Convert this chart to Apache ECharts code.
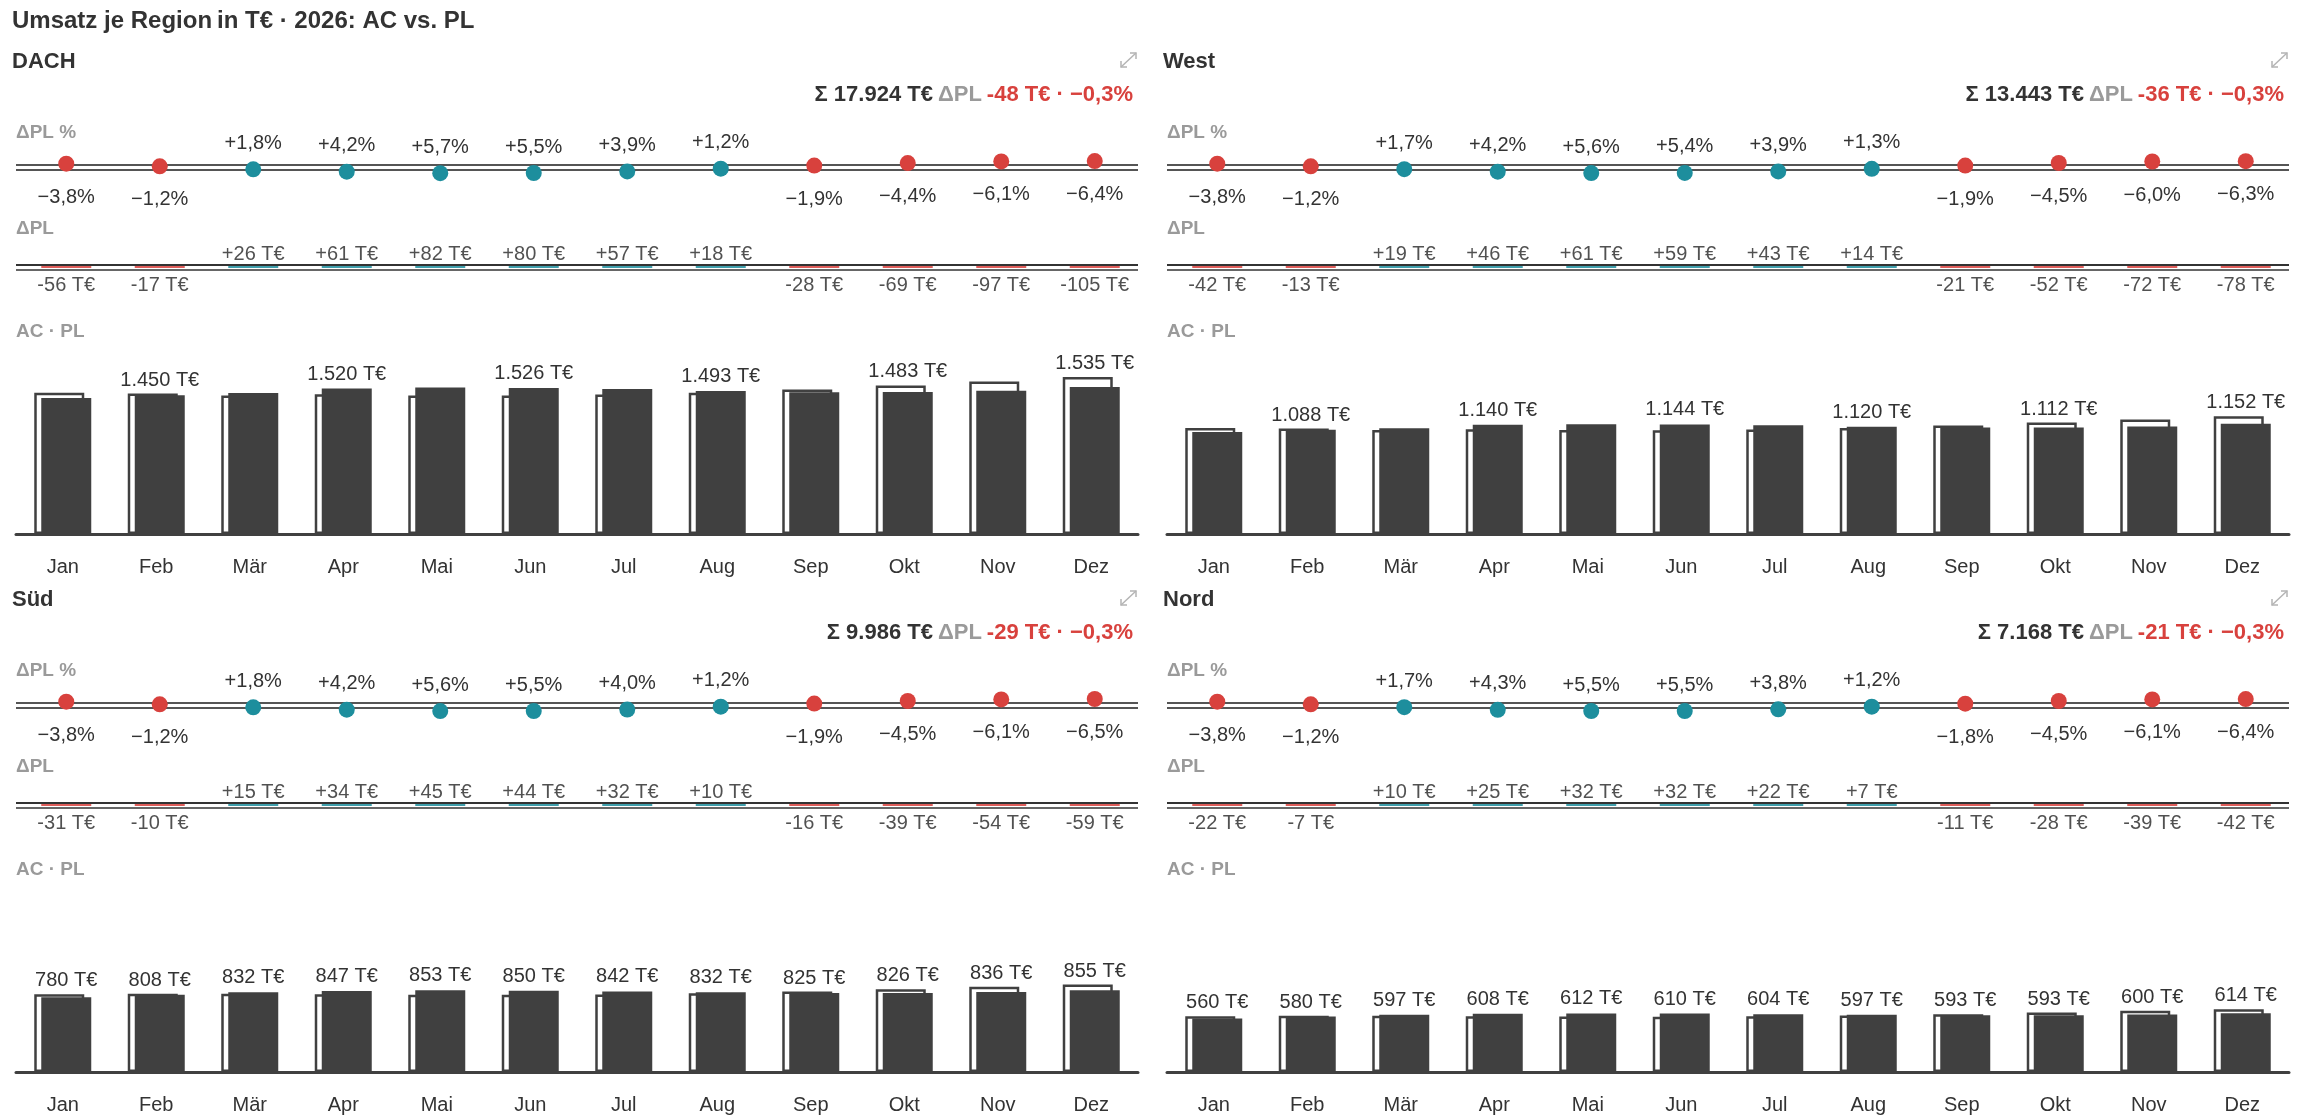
<!DOCTYPE html>
<html>
<head>
<meta charset="utf-8">
<script src="https://cdn.jsdelivr.net/npm/echarts@6/dist/echarts.min.js"></script>
<style>
html, body { margin: 0; padding: 0; background: #fff; }
#chart { width: 2300px; height: 1120px; }
</style>
</head>
<body>
<div id="chart"></div>
<script>
// Daten
var months = ['Jan', 'Feb', 'Mär', 'Apr', 'Mai', 'Jun', 'Jul', 'Aug', 'Sep', 'Okt', 'Nov', 'Dez'];
var regionNames = ['DACH', 'West', 'Süd', 'Nord'];

var acDach  = [1420, 1450, 1474, 1520, 1530, 1526, 1514, 1493, 1482, 1483, 1497, 1535];
var dplDach = [-56, -17, 26, 61, 82, 80, 57, 18, -28, -69, -97, -105];
var pctDach = [-3.8, -1.2, 1.8, 4.2, 5.7, 5.5, 3.9, 1.2, -1.9, -4.4, -6.1, -6.4];

var acWest  = [1065, 1088, 1105, 1140, 1147, 1144, 1135, 1120, 1112, 1112, 1123, 1152];
var dplWest = [-42, -13, 19, 46, 61, 59, 43, 14, -21, -52, -72, -78];
var pctWest = [-3.8, -1.2, 1.7, 4.2, 5.6, 5.4, 3.9, 1.3, -1.9, -4.5, -6.0, -6.3];

var acSued  = [780, 808, 832, 847, 853, 850, 842, 832, 825, 826, 836, 855];
var dplSued = [-31, -10, 15, 34, 45, 44, 32, 10, -16, -39, -54, -59];
var pctSued = [-3.8, -1.2, 1.8, 4.2, 5.6, 5.5, 4.0, 1.2, -1.9, -4.5, -6.1, -6.5];

var acNord  = [560, 580, 597, 608, 612, 610, 604, 597, 593, 593, 600, 614];
var dplNord = [-22, -7, 10, 25, 32, 32, 22, 7, -11, -28, -39, -42];
var pctNord = [-3.8, -1.2, 1.7, 4.3, 5.5, 5.5, 3.8, 1.2, -1.8, -4.5, -6.1, -6.4];

var acAll  = [acDach, acWest, acSued, acNord];
var dplAll = [dplDach, dplWest, dplSued, dplNord];
var pctAll = [pctDach, pctWest, pctSued, pctNord];

// jede n-te Säule beschriften
var labelEvery = [2, 2, 1, 1];

// Layout
var panelLeft = [16, 1167, 16, 1167];
var panelTop  = [0, 0, 538, 538];
var GRID_W = 1122;
var FONT = 'Liberation Sans, Arial, sans-serif';
var RED = '#d8413d', TEAL = '#1d8e9d', DARK = '#404040', TXT = '#333', GREY = '#9a9a9a';

function deNum(v){
    return Math.round(Math.abs(v)).toString().replace(/\B(?=(\d{3})+(?!\d))/g, '.');
}
function fmtTE(v){ return deNum(v) + ' T€'; }
function fmtDelta(v){ return (v > 0 ? '+' : '-') + deNum(v) + ' T€'; }
function fmtPct(v){ return (v > 0 ? '+' : '\u2212') + Math.abs(v).toFixed(1).replace('.', ',') + '%'; }

// PL = AC - ΔPL
var plAll = acAll.map(function(ac, r){
    return ac.map(function(a, i){ return a - dplAll[r][i]; });
});
var barMax = 0;
for (var r = 0; r < 4; r++) {
    barMax = Math.max(barMax, Math.max.apply(null, acAll[r]), Math.max.apply(null, plAll[r]));
}
var BAR_H = 157;

var grids = [], xAxes = [], yAxes = [], series = [], titles = [], graphics = [];

titles.push({
    left: 12, top: 9, padding: 0,
    text: '{b|Umsatz je Region} {n|in T€ · 2026: AC vs. PL}',
    textStyle: {
        rich: {
            b: { fontFamily: FONT, fontSize: 24, fontWeight: 'bold', color: TXT },
            n: { fontFamily: FONT, fontSize: 24, color: TXT }
        }
    }
});

function expandIcon(x, y){
    var st = { stroke: '#b4b4b4', lineWidth: 1.5, fill: 'none' };
    return [
        { type: 'line', silent: true, shape: { x1: x + 1, y1: y + 15, x2: x + 16, y2: y + 1 }, style: st },
        { type: 'polyline', silent: true, shape: { points: [[x + 10, y + 1], [x + 16, y + 1], [x + 16, y + 7]] }, style: st },
        { type: 'polyline', silent: true, shape: { points: [[x + 1, y + 9], [x + 1, y + 15], [x + 7, y + 15]] }, style: st }
    ];
}

for (var p = 0; p < 4; p++) {
    var gx = panelLeft[p], oy = panelTop[p];
    var ac = acAll[p], pl = plAll[p], dpl = dplAll[p], pct = pctAll[p];

    var sumAc = ac.reduce(function(s, v){ return s + v; }, 0);
    var sumDpl = dpl.reduce(function(s, v){ return s + v; }, 0);
    var sumPct = sumDpl / (sumAc - sumDpl) * 100;

    // Texte
    titles.push({
        left: gx - 4, top: oy + 51, padding: 0, text: regionNames[p],
        textStyle: { fontFamily: FONT, fontSize: 22, fontWeight: 'bold', color: TXT }
    });
    titles.push({
        right: 2300 - (gx + 1117), top: oy + 83.5, padding: 0,
        text: '{b|Σ ' + fmtTE(sumAc) + '} {g|ΔPL} {r|' + fmtDelta(sumDpl) + ' · ' + fmtPct(sumPct) + '}',
        textStyle: {
            rich: {
                b: { fontFamily: FONT, fontSize: 22, fontWeight: 'bold', color: TXT },
                g: { fontFamily: FONT, fontSize: 22, color: GREY },
                r: { fontFamily: FONT, fontSize: 22, fontWeight: 'bold', color: RED }
            }
        }
    });
    [['ΔPL %', 123], ['ΔPL', 219], ['AC · PL', 322]].forEach(function(t){
        titles.push({
            left: gx, top: oy + t[1], padding: 0, text: t[0],
            textStyle: { fontFamily: FONT, fontSize: 19, fontWeight: 'bold', color: GREY }
        });
    });
    graphics = graphics.concat(expandIcon(gx + 1104, oy + 52));

    // Grids: ΔPL %, ΔPL, AC · PL
    grids.push({ left: gx, width: GRID_W, top: oy + 147.5, height: 40 });
    grids.push({ left: gx, width: GRID_W, top: oy + 247, height: 40 });
    grids.push({ left: gx, width: GRID_W, top: oy + 534 - BAR_H, height: BAR_H });

    var g0 = p * 3;
    for (var k = 0; k < 2; k++) {
        xAxes.push({ type: 'category', gridIndex: g0 + k, data: months, show: false });
        yAxes.push({ type: 'value', gridIndex: g0 + k, min: -20, max: 20, inverse: true, show: false });
    }
    xAxes.push({
        type: 'category', gridIndex: g0 + 2, data: months,
        axisLine: { lineStyle: { color: DARK, width: 3 } },
        axisTick: { show: false },
        axisLabel: { color: TXT, fontSize: 20, fontFamily: FONT, margin: 23 }
    });
    yAxes.push({ type: 'value', gridIndex: g0 + 2, min: 0, max: barMax, show: false, splitLine: { show: false } });

    // ΔPL % Punkte
    series.push({
        type: 'scatter', xAxisIndex: g0, yAxisIndex: g0, z: 3,
        symbolSize: 16, symbolOffset: [3.5, 0],
        data: pct.map(function(v, i){
            return {
                value: [i, v],
                itemStyle: { color: v < 0 ? RED : TEAL, opacity: 1 },
                label: { position: v < 0 ? 'bottom' : 'top', distance: v < 0 ? 15.5 : 8 }
            };
        }),
        label: {
            show: true, fontFamily: FONT, fontSize: 20, color: TXT,
            formatter: function(prm){ return fmtPct(prm.value[1]); }
        },
        markLine: {
            silent: true, z: 1, animation: false, symbol: ['none', 'none'],
            label: { show: false },
            lineStyle: { type: 'solid', width: 2, color: '#555' },
            data: [{ yAxis: -2.5 }, { yAxis: 2.5 }]
        }
    });

    // ΔPL Marker
    series.push({
        type: 'scatter', xAxisIndex: g0 + 1, yAxisIndex: g0 + 1, z: 3,
        symbol: 'rect', symbolSize: [50, 1.8], symbolOffset: [3.5, 0],
        data: dpl.map(function(v, i){
            return {
                value: [i, 0, v],
                itemStyle: { color: v < 0 ? RED : TEAL, opacity: 0.85 },
                label: { position: v < 0 ? 'bottom' : 'top', distance: v < 0 ? 8 : 2 }
            };
        }),
        label: {
            show: true, fontFamily: FONT, fontSize: 20, color: TXT,
            formatter: function(prm){ return fmtDelta(prm.value[2]); }
        },
        markLine: {
            silent: true, z: 1, animation: false, symbol: ['none', 'none'],
            label: { show: false },
            lineStyle: { type: 'solid', width: 2 },
            data: [
                { yAxis: -2.5, lineStyle: { color: '#333' } },
                { yAxis: 2.3, lineStyle: { color: '#666' } }
            ]
        }
    });

    // PL (Rahmen) und AC (gefüllt)
    var every = labelEvery[p];
    var plData = [], acData = [];
    for (var i = 0; i < 12; i++) {
        var show = (i % every) === (every - 1);
        var plItem = { value: pl[i] }, acItem = { value: ac[i] };
        if (show) {
            if (pl[i] > ac[i]) {
                plItem.label = { show: true, position: 'top', distance: 3.5, offset: [7, 0], formatter: fmtTE(ac[i]) };
            } else {
                acItem.label = { show: true, position: 'top', distance: 4.5, formatter: fmtTE(ac[i]) };
            }
        }
        plData.push(plItem);
        acData.push(acItem);
    }
    var barLabel = { show: false, fontFamily: FONT, fontSize: 20, color: TXT };
    series.push({
        type: 'bar', name: 'PL', xAxisIndex: g0 + 2, yAxisIndex: g0 + 2, z: 2,
        barWidth: 50,
        itemStyle: { color: '#fff', borderColor: DARK, borderWidth: 2.5 },
        label: barLabel,
        data: plData
    });
    series.push({
        type: 'bar', name: 'AC', xAxisIndex: g0 + 2, yAxisIndex: g0 + 2, z: 3,
        barWidth: 50, barGap: '-86%',
        itemStyle: { color: DARK },
        label: barLabel,
        data: acData
    });
}

var chart = echarts.init(document.getElementById('chart'));
chart.setOption({
    animation: false,
    backgroundColor: '#fff',
    textStyle: { fontFamily: FONT },
    title: titles,
    grid: grids,
    xAxis: xAxes,
    yAxis: yAxes,
    series: series,
    graphic: graphics
});
</script>
</body>
</html>
